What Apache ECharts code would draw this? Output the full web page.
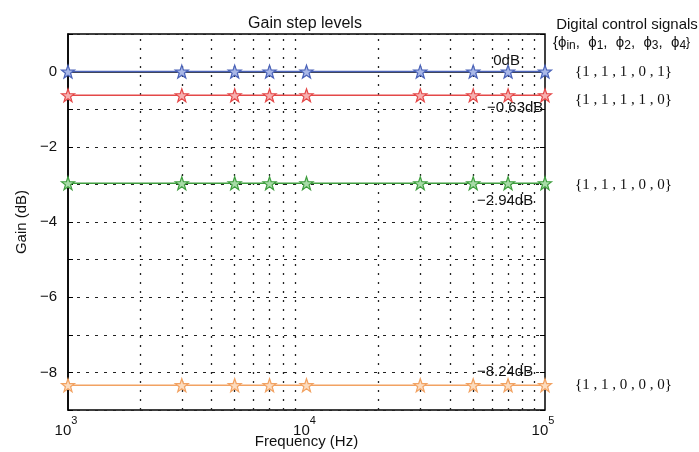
<!DOCTYPE html>
<html>
<head>
<meta charset="utf-8">
<script src="https://cdn.jsdelivr.net/npm/echarts@6/dist/echarts.min.js"></script>
<style>html,body{margin:0;padding:0;background:#fff}#c{width:699px;height:452px}</style>
</head>
<body>
<div id="c"></div>
<script>
var freqs = [1000, 3000, 5000, 7000, 10000, 30000, 50000, 70000, 100000];
var gain0dB = [0, 0, 0, 0, 0, 0, 0, 0, 0];
var gain063dB = [-0.63, -0.63, -0.63, -0.63, -0.63, -0.63, -0.63, -0.63, -0.63];
var gain294dB = [-2.97, -2.97, -2.97, -2.97, -2.97, -2.97, -2.97, -2.97, -2.97];
var gain824dB = [-8.34, -8.34, -8.34, -8.34, -8.34, -8.34, -8.34, -8.34, -8.34];
var seriesNames = ['0dB', '\u22120.63dB', '\u22122.94dB', '\u22128.24dB'];
var controlSignals = ['{1 , 1 , 1 , 0 , 1}', '{1 , 1 , 1 , 1 , 0}', '{1 , 1 , 1 , 0 , 0}', '{1 , 1 , 0 , 0 , 0}'];
var minorGridFreqs = [2000, 3000, 4000, 5000, 6000, 7000, 8000, 9000, 20000, 30000, 40000, 50000, 60000, 70000, 80000, 90000];
var yTicks = [0, -2, -4, -6, -8];
var xTickExp = {1000: '3', 10000: '4', 100000: '5'};

var colors = ['#4a62b8', '#e44848', '#3f9e3f', '#f2a262'];
var fills = ['#a9b8e8', '#f7b0b0', '#a8dca8', '#fcdcbf'];
var allGains = [gain0dB, gain063dB, gain294dB, gain824dB];
// label anchor positions (data coordinates)
var labelPos = [[69000, 0.29], [75000, -0.96], [68000, -3.43], [68000, -7.98]];
var starPath = 'path://M0,-10 L2.35,-3.24 L9.51,-3.09 L3.8,1.24 L5.88,8.09 L0,4 L-5.88,8.09 L-3.8,1.24 L-9.51,-3.09 L-2.35,-3.24 Z';

var font = '"Liberation Sans", Arial, sans-serif';
var serif = '"Liberation Serif", "Times New Roman", serif';

var series = allGains.map(function (g, i) {
  return {
    type: 'line',
    name: seriesNames[i],
    data: freqs.map(function (f, j) { return [f, g[j]]; }),
    clip: false,
    symbol: starPath,
    symbolSize: 13,
    lineStyle: {color: colors[i], width: 1.5},
    itemStyle: {color: fills[i], borderColor: colors[i], borderWidth: 1.2},
    z: 5,
    markPoint: {
      symbol: 'circle', symbolSize: 0, silent: true,
      label: {show: true, position: 'inside', formatter: seriesNames[i], color: '#111', fontFamily: font, fontSize: 15},
      data: [{coord: labelPos[i]}]
    }
  };
});
series.push({
  type: 'line', data: [], silent: true,
  markLine: {
    silent: true, symbol: ['none', 'none'], label: {show: false},
    lineStyle: {color: '#222', type: [2, 7], width: 1.3},
    data: minorGridFreqs.map(function (f) { return {xAxis: f}; })
  },
  z: 1
});

var chart = echarts.init(document.getElementById('c'));
chart.setOption({
  backgroundColor: '#fff',
  animation: false,
  title: [{
    text: 'Gain step levels', left: 300, top: 11, textAlign: 'center',
    textStyle: {fontFamily: font, fontSize: 16, fontWeight: 'normal', color: '#111'}
  }, {
    text: 'Digital control signals', left: 622, top: 12, textAlign: 'center',
    textStyle: {fontFamily: font, fontSize: 15, fontWeight: 'normal', color: '#111'}
  }],
  grid: {left: 68, right: 154, top: 34, bottom: 42, outerBoundsMode: 'none', containLabel: false,
         show: true, borderColor: '#000', borderWidth: 1.5, backgroundColor: 'transparent'},
  xAxis: {
    type: 'log', min: 1000, max: 100000, logBase: 10,
    name: 'Frequency (Hz)', nameLocation: 'middle', nameGap: 24, nameMoveOverlap: false,
    nameTextStyle: {fontFamily: font, fontSize: 15, color: '#111', verticalAlign: 'top'},
    axisLine: {show: true, lineStyle: {color: '#000', width: 1.5}},
    axisTick: {show: false},
    splitLine: {show: false},
    axisLabel: {
      margin: 5,
      formatter: function (v) {
        var e = xTickExp[Math.round(v)];
        return e ? '{b|10}{s|' + e + '}' : '';
      },
      rich: {
        b: {fontFamily: font, fontSize: 15, color: '#111', verticalAlign: 'bottom', padding: [8, 0, 0, 0]},
        s: {fontFamily: font, fontSize: 11, color: '#111', verticalAlign: 'top', padding: [0, 4, 8, 0]}
      }
    }
  },
  yAxis: [{
    type: 'value', min: -9, max: 1, interval: 1,
    name: 'Gain (dB)', nameLocation: 'middle', nameGap: 37, nameRotate: 90,
    nameTextStyle: {fontFamily: font, fontSize: 15, color: '#111'},
    axisLine: {show: true, lineStyle: {color: '#000', width: 1.5}},
    axisTick: {show: true, inside: true, length: 5, lineStyle: {color: '#000'}},
    axisLabel: {
      fontFamily: font, fontSize: 15, color: '#111', margin: 11,
      formatter: function (v) {
        return yTicks.indexOf(v) >= 0 ? (v < 0 ? '\u2212' + (-v) : String(v)) : '';
      }
    },
    splitLine: {show: true, lineStyle: {color: '#222', type: [3, 6], width: 1.2}}
  }, {
    type: 'value', min: -9, max: 1, interval: 1, position: 'right',
    axisLine: {show: false},
    axisTick: {show: true, inside: true, length: 5, lineStyle: {color: '#000'}},
    axisLabel: {show: false},
    splitLine: {show: false}
  }],
  graphic: [{
    type: 'text', left: 553, top: 35,
    style: {
      text: '{t|{}{t|\u03d5}{u|in}{t|,  \u03d5}{u|1}{t|,  \u03d5}{u|2}{t|,  \u03d5}{u|3}{t|,  \u03d5}{u|4}{t|}}',
      rich: {
        t: {fontFamily: font, fontSize: 15, fill: '#111'},
        u: {fontFamily: font, fontSize: 12, fill: '#111', padding: [7, 0, 0, 0]}
      }
    }
  }].concat(controlSignals.map(function (s, i) {
    var yPix = [74, 102, 187, 387][i];
    return {
      type: 'text', left: 575, top: yPix - 9,
      style: {text: s, font: '15px ' + serif, fill: '#111'}
    };
  })),
  series: series
});
</script>
</body>
</html>
